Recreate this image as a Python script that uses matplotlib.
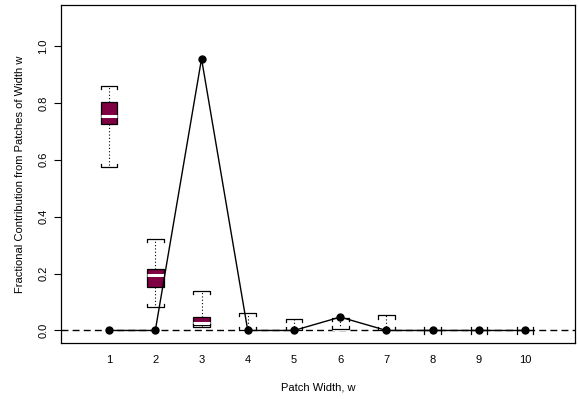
import numpy as np
import matplotlib
matplotlib.use('Agg')
from matplotlib import pyplot as plt
from matplotlib import rcParams

rcParams['font.family'] = 'sans-serif'
rcParams['font.sans-serif'] = ['Liberation Sans', 'DejaVu Sans']

# data
widths = np.arange(1, 11)
whis_lo = [0.574, 0.082, 0.012, 0.0, 0.0, 0.006, 0.0, 0.0, 0.0, 0.0]
q1 = [0.725, 0.154, 0.019, 0.0, 0.0, 0.006, 0.0, 0.0, 0.0, 0.0]
med = [0.754, 0.195, 0.026, 0.0, 0.0, 0.006, 0.0, 0.0, 0.0, 0.0]
q3 = [0.803, 0.217, 0.047, 0.0, 0.0, 0.006, 0.0, 0.0, 0.0, 0.0]
whis_hi = [0.860, 0.323, 0.138, 0.062, 0.039, 0.045, 0.053, 0.0, 0.0, 0.0]
line_vals = [0.0, 0.0, 0.955, 0.0, 0.0, 0.047, 0.0, 0.0, 0.0, 0.0]

box_col = '#7F0042'
bw = 0.36

#%%
fig = plt.figure(figsize=(5.79, 3.99), dpi=100)
ax = fig.add_axes([0.1054, 0.1404, 0.8877, 0.8471])

ax.axhline(0, color='k', linewidth=1, dashes=(5, 3), zorder=1)

stats = []
for i in range(len(widths)):
    stats.append({'whislo': whis_lo[i], 'q1': q1[i], 'med': med[i],
                  'q3': q3[i], 'whishi': whis_hi[i], 'fliers': []})

ax.bxp(stats, positions=widths, widths=bw, patch_artist=True, showcaps=False,
       boxprops=dict(facecolor=box_col, edgecolor='k', linewidth=0.9),
       medianprops=dict(color='white', linewidth=2.2),
       whiskerprops=dict(color='k', linewidth=0.8, linestyle=(0, (1, 2))),
       manage_ticks=False)

# bracket style staples
hook = 0.011
for x, lo, hi in zip(widths, whis_lo, whis_hi):
    xl, xr = x - bw/2, x + bw/2
    ax.plot([xl, xl, xr, xr], [hi - hook, hi, hi, hi - hook], color='k', linewidth=0.9, zorder=3)
    ax.plot([xl, xl, xr, xr], [lo + hook, lo, lo, lo + hook], color='k', linewidth=0.9, zorder=3)

ax.plot(widths, line_vals, color='k', linewidth=1, marker='o', markersize=5, zorder=4)

ax.set_xlim(-0.04, 11.08)
ax.set_ylim(-0.044, 1.144)
ax.set_xticks(widths)
ax.set_xticklabels([str(w) for w in widths])
ax.tick_params(axis='x', length=0, pad=9, labelsize=8)
ax.set_yticks(np.arange(0, 1.01, 0.2))
ax.set_yticklabels(['0.0', '0.2', '0.4', '0.6', '0.8', '1.0'], rotation=90, va='center')
ax.tick_params(axis='y', length=5, width=0.8, pad=4, labelsize=8)
for s in ax.spines.values():
    s.set_linewidth(0.9)

ax.set_xlabel('Patch Width, w', fontsize=8, labelpad=12)
ax.set_ylabel('Fractional Contribution from Patches of Width w', fontsize=8, labelpad=10)

fig.savefig('out.png', dpi=100)
